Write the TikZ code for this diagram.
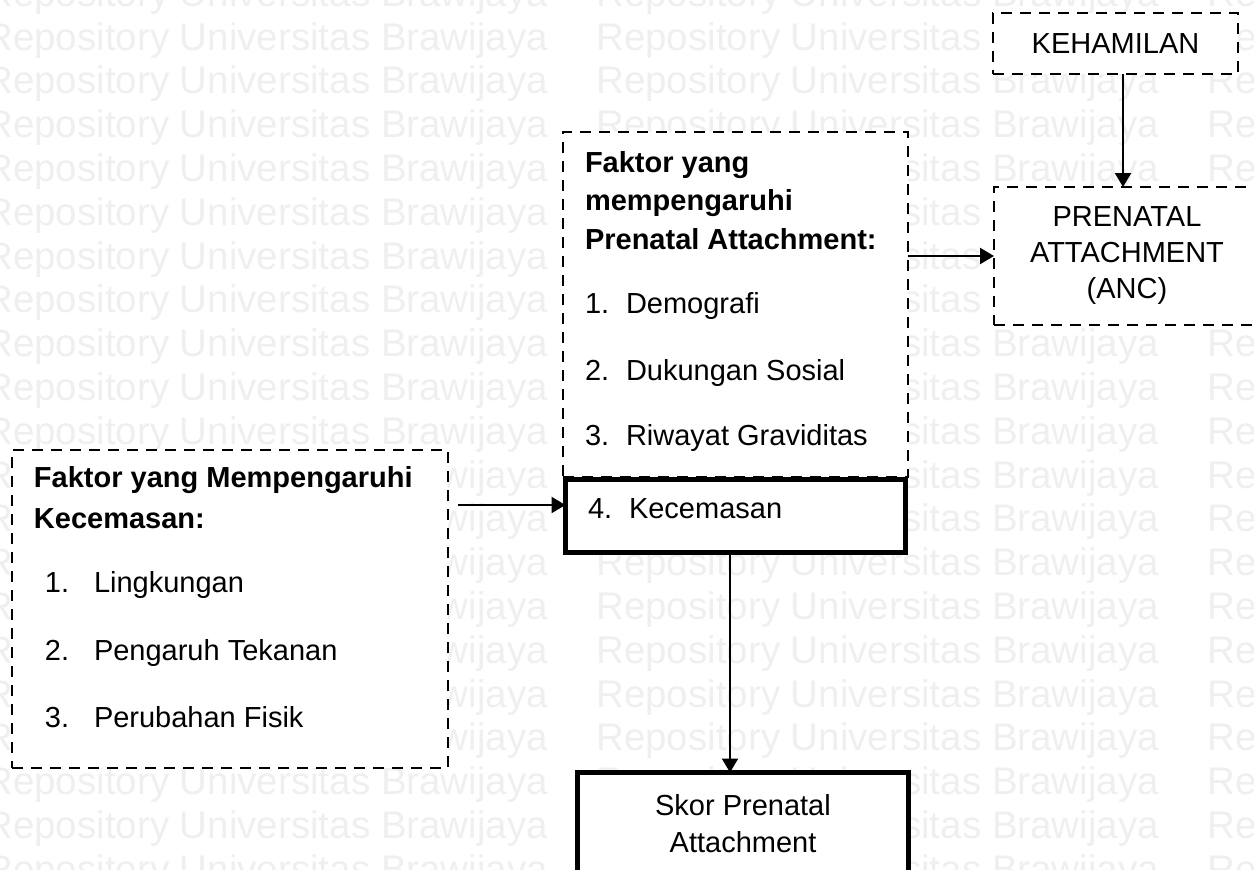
\documentclass[tikz,border=0pt]{standalone}
\usepackage{fontspec}
\setmainfont{Liberation Sans}
\usetikzlibrary{arrows.meta}
\definecolor{wmgray}{RGB}{239,239,239}

\begin{document}
\begin{tikzpicture}[x=1pt,y=-1pt,every node/.style={inner sep=0pt,outer sep=0pt}]
  \tikzset{
    watermark/.style={anchor=base west,text=wmgray,font=\fontsize{38.5}{40}\selectfont},
    dashbox/.style={draw,line width=2.6pt,dash pattern=on 11pt off 8pt,fill=white},
    boldbox/.style={draw,line width=5.8pt,fill=white},
    txt/.style={anchor=base west,font=\fontsize{29}{37}\selectfont},
    head/.style={anchor=base west,font=\bfseries\fontsize{29}{37}\selectfont},
    arr/.style={-{Triangle[length=14pt,width=16pt]},line width=2.4pt}
  }
  \useasboundingbox (0,0) rectangle (1254,870);

  % background stamp
  \foreach \row in {0,...,20}
    \foreach \col/\xx in {a/-14.7,b/596.3,c/1207.3}
      \node[watermark] (wm-\col\row) at (\xx,{6.2+43.8*\row}) {Repository Universitas Brawijaya};

  % boxes
  \node[dashbox,minimum width=245pt,minimum height=61pt,font=\fontsize{29}{36}\selectfont]
    (kehamilan) at (1115.5,43.5) {KEHAMILAN};
  \node[dashbox,minimum width=266pt,minimum height=138pt,align=center,font=\fontsize{29}{36}\selectfont]
    (prenatal) at (1127,256) {PRENATAL\\ATTACHMENT\\(ANC)};
  \node[dashbox,minimum width=345pt,minimum height=345pt] (pabox) at (735.5,304.5) {};
  \node[boldbox,minimum width=340pt,minimum height=73pt] (kecbox) at (735.5,516) {};
  \node[dashbox,minimum width=436pt,minimum height=318pt] (leftbox) at (230,609) {};
  \node[boldbox,minimum width=331pt,minimum height=102.5pt,align=center,font=\fontsize{29}{37}\selectfont]
    (skor) at (743,823.75) {Skor Prenatal\\Attachment};

  % factor list, prenatal attachment
  \node[head] (pahead1) at (585,172) {Faktor yang};
  \node[head] (pahead2) at (585,210) {mempengaruhi};
  \node[head] (pahead3) at (585,249) {Prenatal Attachment:};
  \node[txt] (panum1) at (585,313) {1.};  \node[txt] (paitem1) at (626,313) {Demografi};
  \node[txt] (panum2) at (585,380) {2.};  \node[txt] (paitem2) at (626,380) {Dukungan Sosial};
  \node[txt] (panum3) at (585,445) {3.};  \node[txt] (paitem3) at (626,445) {Riwayat Graviditas};
  \node[txt] (panum4) at (588,518) {4.};  \node[txt] (paitem4) at (629,518) {Kecemasan};

  % factor list, anxiety
  \node[head] (kchead1) at (34,487) {Faktor yang Mempengaruhi};
  \node[head] (kchead2) at (34,528) {Kecemasan:};
  \node[txt] (kcnum1) at (45,592) {1.};  \node[txt] (kcitem1) at (94,592) {Lingkungan};
  \node[txt] (kcnum2) at (45,660) {2.};  \node[txt] (kcitem2) at (94,660) {Pengaruh Tekanan};
  \node[txt] (kcnum3) at (45,727) {3.};  \node[txt] (kcitem3) at (94,727) {Perubahan Fisik};

  % connectors
  \coordinate (kehout) at ([xshift=7.5pt]kehamilan.south);
  \coordinate (kecin) at ([yshift=11pt]kecbox.west);
  \coordinate (leftout) at ([xshift=10pt]leftbox.east);
  \coordinate (kecout) at ([xshift=-5.5pt]kecbox.south);
  \draw[arr] (kehout) -- (kehout |- prenatal.north);
  \draw[arr] (prenatal.west -| pabox.east) -- (prenatal.west);
  \draw[arr] (leftout |- kecin) -- (kecin);
  \draw[arr] (kecout) -- (kecout |- skor.north);
\end{tikzpicture}
\end{document}
